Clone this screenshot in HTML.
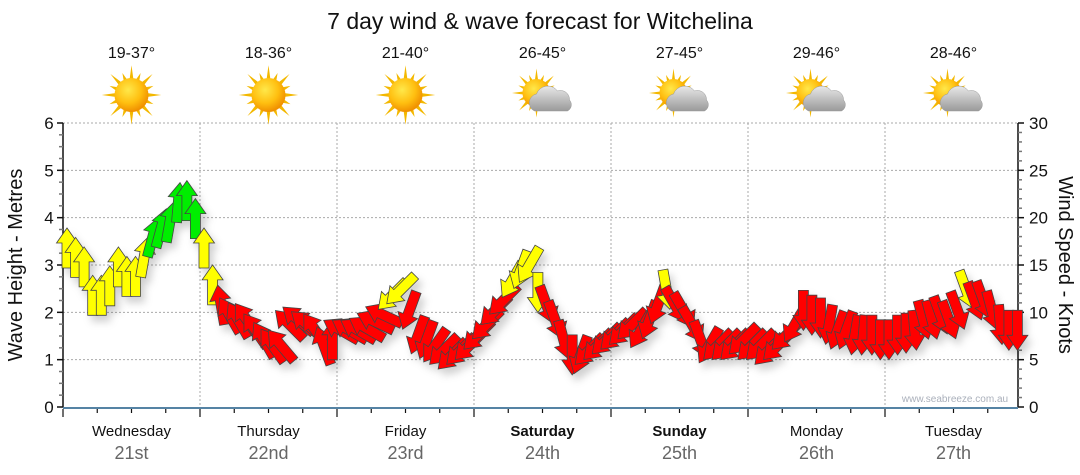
<!DOCTYPE html>
<html><head><meta charset="utf-8">
<style>
html,body{margin:0;padding:0;background:#fff;}
svg{display:block;font-family:"Liberation Sans",Tahoma,sans-serif;}
</style></head>
<body>
<svg id="chart" width="1080" height="475" viewBox="0 0 1080 475">
<defs>
<radialGradient id="sunG" cx="40%" cy="35%" r="65%"><stop offset="0" stop-color="#ffe84a"/><stop offset="0.6" stop-color="#ffbf10"/><stop offset="1" stop-color="#f09000"/></radialGradient>
<linearGradient id="cloudG" x1="0" y1="0" x2="0" y2="1"><stop offset="0" stop-color="#e8e8e8"/><stop offset="1" stop-color="#9a9a9a"/></linearGradient>
<filter id="shadow" x="-50%" y="-50%" width="200%" height="200%"><feDropShadow dx="4" dy="6" stdDeviation="4" flood-color="#000" flood-opacity="0.18"/></filter>
</defs>
<text x="540" y="29" text-anchor="middle" font-size="23" fill="#111">7 day wind &amp; wave forecast for Witchelina</text>
<g id="grid"></g>
<g id="axes"></g>
<g id="days"></g>
<text x="955" y="402" text-anchor="middle" font-size="10" fill="#aab0bb">www.seabreeze.com.au</text>
<g id="arrows" filter="url(#shadow)"></g>
<text transform="translate(22,265) rotate(-90)" text-anchor="middle" font-size="20" fill="#111">Wave Height - Metres</text>
<text transform="translate(1059,265) rotate(90)" text-anchor="middle" font-size="20" fill="#111">Wind Speed - Knots</text>
</svg>
<script>
const dayNames=["Wednesday","Thursday","Friday","Saturday","Sunday","Monday","Tuesday"];
const dayDates=["21st","22nd","23rd","24th","25th","26th","27th"];
const boldDays=[false,false,false,true,true,false,false];
const temps=["19-37°","18-36°","21-40°","26-45°","27-45°","29-46°","28-46°"];
const cloudy=[false,false,false,true,true,true,true];
const waveTicks=[0,1,2,3,4,5,6];
const windTicks=[0,5,10,15,20,25,30];
const windKnots=[16.8,15.8,14.8,11.8,11.8,12.8,14.8,13.8,13.8,15.8,17.9,18.9,19.5,21.6,21.8,19.9,
16.8,12.9,10.8,9.7,9.2,9.2,8.1,7.1,6.5,6.5,8.7,9.2,8.7,8.1,6.5,7.1,
8.1,8.1,8.1,8.3,9.0,9.7,11.8,12.4,10.2,7.6,7.1,6.5,6.0,5.5,6.0,6.5,
7.6,8.7,10.2,11.3,13.4,14.5,15.0,12.1,10.8,9.2,7.1,5.5,5.5,6.0,6.5,7.1,
7.6,8.1,8.7,8.1,9.2,10.8,12.4,10.8,10.2,8.7,7.1,6.5,6.5,6.5,6.5,7.1,
6.5,6.5,6.0,6.5,7.6,8.7,10.2,9.7,9.4,8.7,8.1,8.1,7.6,7.6,7.6,7.1,
7.1,7.6,7.8,8.1,9.2,9.2,9.7,9.2,10.2,12.4,11.2,11.3,10.2,8.7,8.1,8.1];
const windDir=[0,0,0,0,0,0,0,0,0,10,15,15,10,5,0,0,
0,0,-10,-30,-30,-35,-35,-30,-35,-40,-45,-50,-50,-35,-20,0,
-60,-60,-60,-60,-65,-65,225,225,200,200,200,215,225,225,225,225,
225,225,225,225,210,200,210,180,160,160,165,180,200,225,225,225,
225,225,225,210,200,200,170,150,150,150,160,210,225,225,225,225,
225,225,225,225,225,210,180,180,180,190,200,200,190,185,180,180,
180,180,180,175,165,165,160,160,160,160,160,160,165,175,180,180];

const NS="http://www.w3.org/2000/svg";
const X0=63,X1=1022,Y0=407,Y1=123;
const dayW=(X1-X0)/7;
const yWave=v=>Y0-(v/6)*(Y0-Y1);
const yWind=v=>Y0-(v/30)*(Y0-Y1);
const xIdx=i=>X0+4+(i)*(dayW/16);
function mk(tag,attrs,parent,text){const e=document.createElementNS(NS,tag);for(const k in attrs)e.setAttribute(k,attrs[k]);if(text!==undefined)e.textContent=text;parent.appendChild(e);return e;}
const grid=document.getElementById('grid'),axes=document.getElementById('axes'),days=document.getElementById('days'),arrows=document.getElementById('arrows');
waveTicks.forEach(t=>{if(t===0)return;const g=mk('line',{x1:X0,x2:1018,y1:yWave(t),y2:yWave(t),stroke:'#aaa','stroke-dasharray':'2,2','stroke-width':1},grid);

});
for(let d=1;d<7;d++){const x=X0+d*dayW;const g=mk('line',{x1:x,x2:x,y1:Y1,y2:Y0,stroke:'#aaa','stroke-dasharray':'2,2'},grid);

}
mk('line',{x1:X0,x2:X0,y1:Y1,y2:Y0,stroke:'#111','stroke-width':1.5},axes);
mk('line',{x1:1018,x2:1018,y1:Y1,y2:Y0,stroke:'#111','stroke-width':1.5},axes);
const bx=mk('line',{x1:X0,x2:1018,y1:408,y2:408,stroke:'#1d5a86','stroke-width':1.5},axes);


for(let m=0;m<=24;m++){const y=Y0-m*(Y0-Y1)/24;mk('line',{x1:X0-(m%4===0?6:4),x2:X0,y1:y,y2:y,stroke:m%4===0?'#111':'#777','stroke-width':1.5},axes);}
for(let m=0;m<=30;m++){const y=yWind(m);mk('line',{x1:1018,x2:1018+(m%5===0?6:4),y1:y,y2:y,stroke:m%5===0?'#111':'#777','stroke-width':1.5},axes);}
waveTicks.forEach(t=>{const e=mk('text',{x:49,y:yWave(t)+6,'text-anchor':'middle','font-size':17,fill:'#111'},axes,String(t));

});
windTicks.forEach(t=>{const e=mk('text',{x:1029,y:yWind(t)+6,'font-size':17,fill:'#111'},axes,String(t));

});
for(let q=0;q<28;q++){const x=X0+q*dayW/4;mk('line',{x1:x,x2:x,y1:409,y2:q%4===0?417:413,stroke:'#111','stroke-width':1.2},axes);}
function sun(g,cx,cy,r){for(let k=0;k<16;k++){const a=k*Math.PI/8,L=(k%2?r*1.4:r*1.75),w=0.13;
mk('polygon',{points:`${cx+Math.cos(a-w)*r*0.9},${cy+Math.sin(a-w)*r*0.9} ${cx+Math.cos(a)*L},${cy+Math.sin(a)*L} ${cx+Math.cos(a+w)*r*0.9},${cy+Math.sin(a+w)*r*0.9}`,fill:'#f3b800'},g);}
mk('circle',{cx,cy,r,fill:'url(#sunG)'},g);}
for(let d=0;d<7;d++){const cx=X0+(d+0.5)*dayW;
const t=mk('text',{x:cx,y:58,'text-anchor':'middle','font-size':16,fill:'#111'},days,temps[d]);


const ic=mk('g',{},days);


if(cloudy[d]){sun(ic,cx-6,93,14);
mk('path',{d:`M${cx-8},${111} a9,9 0 0 1 2,-17 a12,12 0 0 1 21,-3 a9,9 0 0 1 12,9 a7,7 0 0 1 -2,11 z`,fill:'url(#cloudG)',stroke:'#999','stroke-width':0.5},ic);}
else sun(ic,cx,95,17);
const n=mk('text',{x:cx,y:436,'text-anchor':'middle','font-size':15,fill:'#111','font-weight':boldDays[d]?'bold':'normal'},days,dayNames[d]);


const dt=mk('text',{x:cx,y:459,'text-anchor':'middle','font-size':18,fill:'#666'},days,dayDates[d]);

}
const shape="M-5,20 L5,20 L5,-5 L10.5,-5 L0,-20 L-10.5,-5 L-5,-5 Z";
windKnots.forEach((v,i)=>{const x=xIdx(i),y=yWind(v);
const col=v>=17.5?'#00ee00':(v>=11.5?'#ffff00':'#ff0000');
const p=mk('path',{d:shape,fill:col,stroke:'#444','stroke-width':0.8,transform:`translate(${x.toFixed(1)},${y.toFixed(1)}) rotate(${windDir[i]})`},arrows);

});
</script>
</body></html>
